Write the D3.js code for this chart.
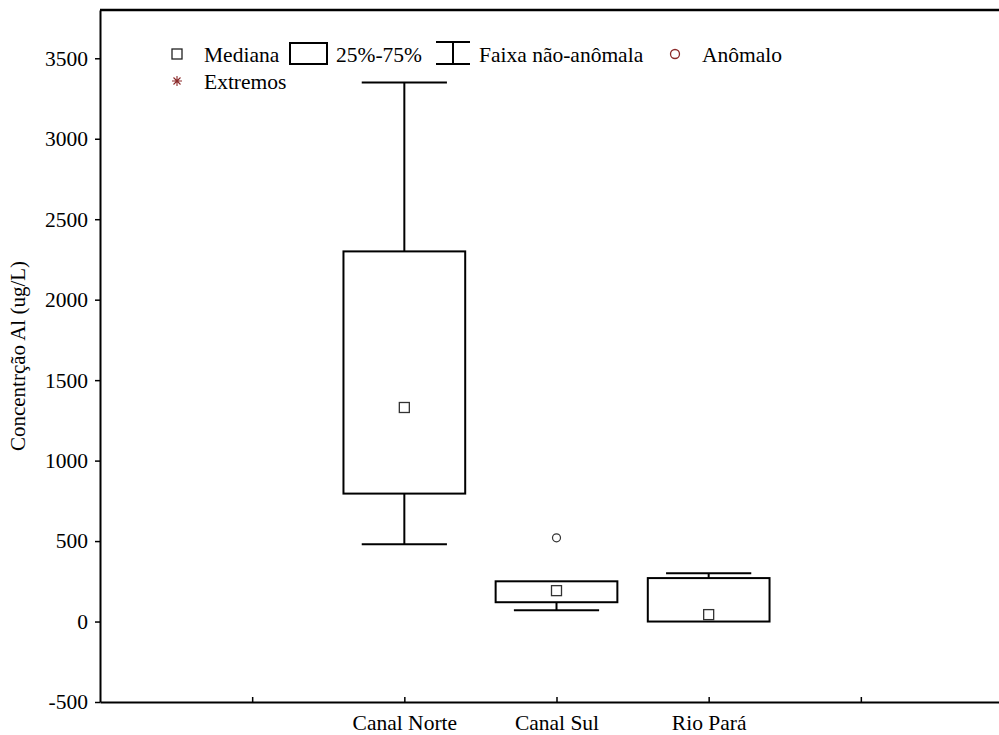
<!DOCTYPE html>
<html>
<head>
<meta charset="utf-8">
<script src="https://cdn.jsdelivr.net/npm/d3@7"></script>
<style>
  body { margin: 0; background: #fff; }
  svg text { font-family: "Liberation Serif", "Times New Roman", serif; fill: #000; }
</style>
</head>
<body>
<div id="chart"></div>
<script>
  // data
  const categories = ["Canal Norte", "Canal Sul", "Rio Pará"];
  const catPos = [2, 3, 4];
  const whiskerLow = [480, 70, 0];
  const q1 = [795, 120, 0];
  const median = [1330, 192, 43];
  const q3 = [2300, 250, 270];
  const whiskerHigh = [3350, 250, 300];
  const outliers = [[], [520], []];

  const xTicks = [1, 2, 3, 4, 5];
  const xTickLabels = ["", "Canal Norte", "Canal Sul", "Rio Pará", ""];
  const yTicks = [-500, 0, 500, 1000, 1500, 2000, 2500, 3000, 3500];

  const width = 999;
  const height = 735;
  const margin = { top: 10, right: -14, bottom: 33, left: 100 };
  const fontSize = 21.5;

  const svg = d3.select("#chart")
    .append("svg")
      .attr("width", width)
      .attr("height", height);

  const x = d3.scaleLinear()
    .domain([0, 6])
    .range([margin.left, width - margin.right]);

  const y = d3.scaleLinear()
    .domain([-500, 3800])
    .range([height - margin.bottom, margin.top]);

  const slot = x(1) - x(0);
  const boxW = slot * 0.8;
  const capW = slot * 0.56;

  // frame: left, bottom and top lines (no right side, it runs off the page)
  svg.append("line")
    .attr("x1", margin.left).attr("x2", width - margin.right)
    .attr("y1", margin.top).attr("y2", margin.top)
    .attr("stroke", "#000").attr("stroke-width", 2.5);

  const yAxis = svg.append("g")
    .attr("transform", `translate(${margin.left},0)`)
    .call(d3.axisLeft(y).tickValues(yTicks).tickSize(5).tickPadding(7).tickSizeOuter(0)
      .tickFormat(d => String(d)));

  yAxis.select(".domain").attr("stroke-width", 2);
  yAxis.selectAll(".tick line").attr("stroke-width", 1.5);
  yAxis.selectAll("text")
    .style("font-size", fontSize + "px")
    .style("font-family", "'Liberation Serif', serif");

  const xAxis = svg.append("g")
    .attr("transform", `translate(0,${height - margin.bottom})`)
    .call(d3.axisBottom(x).tickValues(xTicks).tickSize(-5).tickPadding(13).tickSizeOuter(0)
      .tickFormat((d, i) => xTickLabels[i]));

  xAxis.select(".domain").attr("stroke-width", 2);
  xAxis.selectAll(".tick line").attr("stroke-width", 1.5);
  xAxis.selectAll("text")
    .style("font-size", fontSize + "px")
    .style("font-family", "'Liberation Serif', serif")
    .attr("dy", "0.71em");

  svg.append("text")
    .attr("transform", `translate(25,${y(1650)}) rotate(-90)`)
    .attr("text-anchor", "middle")
    .attr("font-size", 21)
    .text("Concentrção Al (ug/L)");

  // boxes
  const boxes = svg.append("g").selectAll("g")
    .data(categories.map((c, i) => ({
      name: c, pos: catPos[i], lo: whiskerLow[i], q1: q1[i],
      med: median[i], q3: q3[i], hi: whiskerHigh[i], out: outliers[i]
    })))
    .enter().append("g");

  boxes.append("line")
    .attr("x1", d => x(d.pos)).attr("x2", d => x(d.pos))
    .attr("y1", d => y(d.hi)).attr("y2", d => y(d.q3))
    .attr("stroke", "#000").attr("stroke-width", 2);

  boxes.append("line")
    .attr("x1", d => x(d.pos)).attr("x2", d => x(d.pos))
    .attr("y1", d => y(d.q1)).attr("y2", d => y(d.lo))
    .attr("stroke", "#000").attr("stroke-width", 2);

  boxes.filter(d => d.hi > d.q3).append("line")
    .attr("x1", d => x(d.pos) - capW / 2).attr("x2", d => x(d.pos) + capW / 2)
    .attr("y1", d => y(d.hi)).attr("y2", d => y(d.hi))
    .attr("stroke", "#000").attr("stroke-width", 2);

  boxes.filter(d => d.lo < d.q1).append("line")
    .attr("x1", d => x(d.pos) - capW / 2).attr("x2", d => x(d.pos) + capW / 2)
    .attr("y1", d => y(d.lo)).attr("y2", d => y(d.lo))
    .attr("stroke", "#000").attr("stroke-width", 2);

  boxes.append("rect")
    .attr("x", d => x(d.pos) - boxW / 2)
    .attr("width", boxW)
    .attr("y", d => y(d.q3))
    .attr("height", d => y(d.q1) - y(d.q3))
    .attr("fill", "none")
    .attr("stroke", "#000").attr("stroke-width", 2);

  boxes.append("rect")
    .attr("x", d => x(d.pos) - 5)
    .attr("y", d => y(d.med) - 5)
    .attr("width", 10).attr("height", 10)
    .attr("fill", "#fff")
    .attr("stroke", "#333").attr("stroke-width", 1.3);

  boxes.selectAll("circle")
    .data(d => d.out.map(v => ({ pos: d.pos, v })))
    .enter().append("circle")
      .attr("cx", d => x(d.pos))
      .attr("cy", d => y(d.v))
      .attr("r", 4)
      .attr("fill", "#fff")
      .attr("stroke", "#333").attr("stroke-width", 1.2);

  // legend
  const legend = svg.append("g").attr("class", "legend");
  const row1 = 54, row2 = 81;
  const red = "#8b2a2a";

  legend.append("rect")
    .attr("x", 172).attr("y", row1 - 5).attr("width", 10).attr("height", 10)
    .attr("fill", "#fff").attr("stroke", "#222").attr("stroke-width", 1.3);
  legend.append("text").attr("x", 204).attr("y", row1).attr("dy", "0.35em")
    .attr("font-size", fontSize).text("Mediana");

  legend.append("rect")
    .attr("x", 290).attr("y", row1 - 11).attr("width", 37).attr("height", 21)
    .attr("fill", "none").attr("stroke", "#000").attr("stroke-width", 2);
  legend.append("text").attr("x", 336).attr("y", row1).attr("dy", "0.35em")
    .attr("font-size", fontSize).text("25%-75%");

  legend.append("path")
    .attr("d", `M436,${row1 - 12}H470M453,${row1 - 12}V${row1 + 10}M436,${row1 + 10}H470`)
    .attr("fill", "none").attr("stroke", "#000").attr("stroke-width", 2);
  legend.append("text").attr("x", 479).attr("y", row1).attr("dy", "0.35em")
    .attr("font-size", fontSize).text("Faixa não-anômala");

  legend.append("circle")
    .attr("cx", 675).attr("cy", row1).attr("r", 4.5)
    .attr("fill", "none").attr("stroke", red).attr("stroke-width", 1.3);
  legend.append("text").attr("x", 702).attr("y", row1).attr("dy", "0.35em")
    .attr("font-size", fontSize).text("Anômalo");

  legend.append("path")
    .attr("d", `M172,${row2}H182M177,${row2 - 5}V${row2 + 5}M173.5,${row2 - 3.5}L180.5,${row2 + 3.5}M173.5,${row2 + 3.5}L180.5,${row2 - 3.5}`)
    .attr("fill", "none").attr("stroke", red).attr("stroke-width", 1.1);
  legend.append("text").attr("x", 204).attr("y", row2).attr("dy", "0.35em")
    .attr("font-size", fontSize).text("Extremos");
</script>
</body>
</html>
